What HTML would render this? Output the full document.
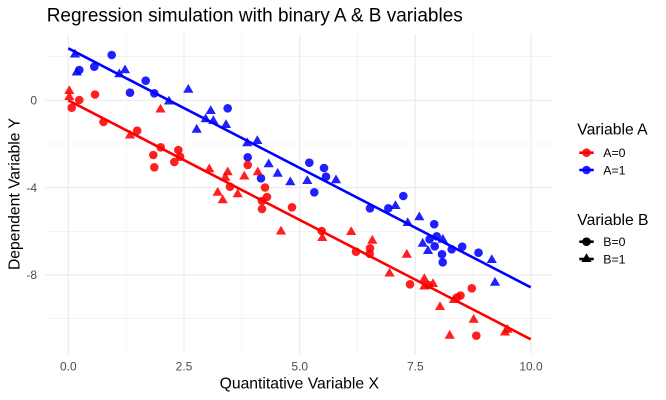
<!DOCTYPE html>
<html>
<head>
<meta charset="utf-8">
<style>
html,body{margin:0;padding:0;background:#fff;}
svg{display:block;}
text{font-family:"Liberation Sans",Arial,sans-serif;}
</style>
</head>
<body>
<svg width="666" height="400" viewBox="0 0 666 400" xmlns="http://www.w3.org/2000/svg">
<rect width="666" height="400" fill="#fff"/>
<defs>
  <polygon id="tri" points="0,-5.8 -5.1,3.0 5.1,3.0"/>
</defs>
<!-- minor grid -->
<g stroke="#ebebeb" stroke-width="0.6" fill="none">
  <line x1="45.7" x2="553" y1="56.6" y2="56.6"/>
  <line x1="45.7" x2="553" y1="144" y2="144"/>
  <line x1="45.7" x2="553" y1="231.3" y2="231.3"/>
  <line x1="45.7" x2="553" y1="318.6" y2="318.6"/>
  <line y1="34" y2="354" x1="126.2" x2="126.2"/>
  <line y1="34" y2="354" x1="241.8" x2="241.8"/>
  <line y1="34" y2="354" x1="357.5" x2="357.5"/>
  <line y1="34" y2="354" x1="473.2" x2="473.2"/>
</g>
<!-- major grid -->
<g stroke="#ebebeb" stroke-width="1.2" fill="none">
  <line x1="45.7" x2="553" y1="100.3" y2="100.3"/>
  <line x1="45.7" x2="553" y1="187.6" y2="187.6"/>
  <line x1="45.7" x2="553" y1="274.9" y2="274.9"/>
  <line y1="34" y2="354" x1="68.3" x2="68.3"/>
  <line y1="34" y2="354" x1="184" x2="184"/>
  <line y1="34" y2="354" x1="299.7" x2="299.7"/>
  <line y1="34" y2="354" x1="415.3" x2="415.3"/>
  <line y1="34" y2="354" x1="531" x2="531"/>
</g>

<!-- blue points -->
<g fill="#0000ff" fill-opacity="0.88">
  <use href="#tri" x="75" y="54.5"/>
  <use href="#tri" x="76.7" y="72.5"/>
  <circle cx="79.3" cy="70" r="4.3"/>
  <circle cx="94.3" cy="66.7" r="4.3"/>
  <circle cx="111.7" cy="55" r="4.3"/>
  <use href="#tri" x="125" y="70.3"/>
  <use href="#tri" x="119.3" y="74.3"/>
  <circle cx="145.7" cy="80.7" r="4.3"/>
  <circle cx="130" cy="92.7" r="4.3"/>
  <circle cx="154.3" cy="93.3" r="4.3"/>
  <use href="#tri" x="169" y="101.5"/>
  <use href="#tri" x="188.3" y="89.7"/>
  <use href="#tri" x="210.7" y="111"/>
  <use href="#tri" x="205.7" y="119.3"/>
  <use href="#tri" x="213.3" y="121"/>
  <circle cx="227.7" cy="108.3" r="4.3"/>
  <use href="#tri" x="196.7" y="129.7"/>
  <use href="#tri" x="226" y="125"/>
  <use href="#tri" x="247.3" y="143.3"/>
  <use href="#tri" x="257.3" y="141"/>
  <circle cx="247.7" cy="157.3" r="4.3"/>
  <use href="#tri" x="268.7" y="164.3"/>
  <circle cx="261" cy="178.3" r="4.3"/>
  <use href="#tri" x="277.7" y="173.7"/>
  <use href="#tri" x="290.3" y="182.3"/>
  <circle cx="309.3" cy="162.7" r="4.3"/>
  <circle cx="324" cy="168" r="4.3"/>
  <circle cx="326" cy="176.7" r="4.3"/>
  <use href="#tri" x="307.3" y="181"/>
  <use href="#tri" x="336" y="180.3"/>
  <circle cx="314.3" cy="192.3" r="4.3"/>
  <circle cx="370" cy="208.3" r="4.3"/>
  <circle cx="388.3" cy="208.3" r="4.3"/>
  <use href="#tri" x="395.5" y="206"/>
  <circle cx="403.3" cy="196" r="4.3"/>
  <use href="#tri" x="407.7" y="223"/>
  <use href="#tri" x="419.3" y="217.3"/>
  <circle cx="434.2" cy="224.2" r="4.3"/>
  <circle cx="436.7" cy="236.3" r="4.3"/>
  <circle cx="429.6" cy="239.3" r="4.3"/>
  <use href="#tri" x="442.8" y="239.7"/>
  <use href="#tri" x="422.7" y="243.7"/>
  <use href="#tri" x="428" y="251"/>
  <circle cx="434.7" cy="246.3" r="4.3"/>
  <circle cx="442" cy="254.3" r="4.3"/>
  <circle cx="442.7" cy="262.3" r="4.3"/>
  <circle cx="451.7" cy="249.3" r="4.3"/>
  <circle cx="462.2" cy="246.7" r="4.3"/>
  <circle cx="478.5" cy="252.7" r="4.3"/>
  <use href="#tri" x="491.8" y="260"/>
  <use href="#tri" x="495" y="282.7"/>
</g>

<!-- red points -->
<g fill="#ff0000" fill-opacity="0.88">
  <use href="#tri" x="69.3" y="91"/>
  <use href="#tri" x="69.3" y="97"/>
  <circle cx="79.3" cy="100" r="4.3"/>
  <circle cx="71.7" cy="107.7" r="4.3"/>
  <circle cx="95" cy="94.5" r="4.3"/>
  <circle cx="103.5" cy="122" r="4.3"/>
  <use href="#tri" x="130" y="135.5"/>
  <circle cx="137.2" cy="130.7" r="4.3"/>
  <use href="#tri" x="160.5" y="109.5"/>
  <circle cx="160.7" cy="147.3" r="4.3"/>
  <circle cx="153.3" cy="155" r="4.3"/>
  <circle cx="154.3" cy="167.3" r="4.3"/>
  <circle cx="178.3" cy="150" r="4.3"/>
  <circle cx="180" cy="156.7" r="4.3"/>
  <circle cx="174.3" cy="162" r="4.3"/>
  <use href="#tri" x="209.3" y="169.3"/>
  <use href="#tri" x="227.7" y="172.3"/>
  <use href="#tri" x="225.3" y="177.7"/>
  <circle cx="230" cy="186.7" r="4.3"/>
  <use href="#tri" x="217.7" y="192.7"/>
  <use href="#tri" x="222.7" y="200.3"/>
  <use href="#tri" x="237.7" y="194.3"/>
  <use href="#tri" x="244.3" y="176.5"/>
  <circle cx="247.7" cy="165" r="4.3"/>
  <use href="#tri" x="257.8" y="172.3"/>
  <circle cx="265" cy="187.5" r="4.3"/>
  <circle cx="267" cy="197" r="4.3"/>
  <circle cx="262" cy="201" r="4.3"/>
  <circle cx="262" cy="209" r="4.3"/>
  <circle cx="292" cy="207.3" r="4.3"/>
  <use href="#tri" x="281" y="231.5"/>
  <circle cx="321.7" cy="231" r="4.3"/>
  <use href="#tri" x="322.3" y="238"/>
  <use href="#tri" x="351.2" y="232"/>
  <circle cx="356" cy="251.7" r="4.3"/>
  <use href="#tri" x="372.3" y="240.7"/>
  <circle cx="370" cy="248.3" r="4.3"/>
  <circle cx="369.7" cy="253.8" r="4.3"/>
  <use href="#tri" x="389.5" y="273.5"/>
  <use href="#tri" x="406.8" y="254.7"/>
  <circle cx="410" cy="284.3" r="4.3"/>
  <use href="#tri" x="424.3" y="279"/>
  <use href="#tri" x="424.3" y="286.5"/>
  <use href="#tri" x="433" y="284"/>
  <circle cx="428.3" cy="285" r="4.3"/>
  <use href="#tri" x="440" y="307"/>
  <circle cx="460.5" cy="295.5" r="4.3"/>
  <circle cx="457" cy="297.5" r="4.3"/>
  <use href="#tri" x="454" y="300"/>
  <circle cx="471.8" cy="288.3" r="4.3"/>
  <use href="#tri" x="473.7" y="319.8"/>
  <use href="#tri" x="449.7" y="335.7"/>
  <circle cx="476.3" cy="335.7" r="4.3"/>
  <use href="#tri" x="505" y="332.5"/>
  <use href="#tri" x="507.5" y="329.8"/>
</g>

<!-- regression lines -->
<line x1="68.3" y1="48.3" x2="530.7" y2="287.3" stroke="#0000ff" stroke-width="2.6"/>
<line x1="68.3" y1="100.3" x2="530.7" y2="339.3" stroke="#ff0000" stroke-width="2.6"/>

<!-- title -->
<text x="46.7" y="21.7" font-size="19" fill="#000">Regression simulation with binary A &amp; B variables</text>

<!-- y tick labels -->
<g font-size="12" fill="#4d4d4d" text-anchor="end">
  <text x="37" y="104.6">0</text>
  <text x="37" y="191.9">-4</text>
  <text x="37" y="279.2">-8</text>
</g>
<!-- x tick labels -->
<g font-size="12" fill="#4d4d4d" text-anchor="middle">
  <text x="68.3" y="370.7">0.0</text>
  <text x="184" y="370.7">2.5</text>
  <text x="299.7" y="370.7">5.0</text>
  <text x="415.3" y="370.7">7.5</text>
  <text x="531" y="370.7">10.0</text>
</g>

<!-- axis titles -->
<text x="299.3" y="388.5" font-size="15.7" text-anchor="middle" fill="#000">Quantitative Variable X</text>
<text transform="translate(19.5,194) rotate(-90)" x="0" y="0" font-size="15.7" text-anchor="middle" fill="#000">Dependent Variable Y</text>

<!-- legend A -->
<text x="577.3" y="134.3" font-size="15.7" fill="#000">Variable A</text>
<line x1="579.3" x2="593.7" y1="152.7" y2="152.7" stroke="#ff0000" stroke-width="2.6"/>
<circle cx="586.5" cy="152.7" r="4.3" fill="#ff0000" fill-opacity="0.88"/>
<text x="603.3" y="157" font-size="12.3" fill="#000">A=0</text>
<line x1="579.3" x2="593.7" y1="170" y2="170" stroke="#0000ff" stroke-width="2.6"/>
<circle cx="586.5" cy="170" r="4.3" fill="#0000ff" fill-opacity="0.88"/>
<text x="603.3" y="174.3" font-size="12.3" fill="#000">A=1</text>

<!-- legend B -->
<text x="577.3" y="225.2" font-size="15.7" fill="#000">Variable B</text>
<line x1="579.3" x2="593.7" y1="241.7" y2="241.7" stroke="#000" stroke-width="2.6"/>
<circle cx="586.5" cy="241.7" r="4.3" fill="#000"/>
<text x="603.3" y="246" font-size="12.3" fill="#000">B=0</text>
<line x1="579.3" x2="593.7" y1="259" y2="259" stroke="#000" stroke-width="2.6"/>
<use href="#tri" x="586.5" y="259" fill="#000"/>
<text x="603.3" y="263.3" font-size="12.3" fill="#000">B=1</text>
</svg>
</body>
</html>
